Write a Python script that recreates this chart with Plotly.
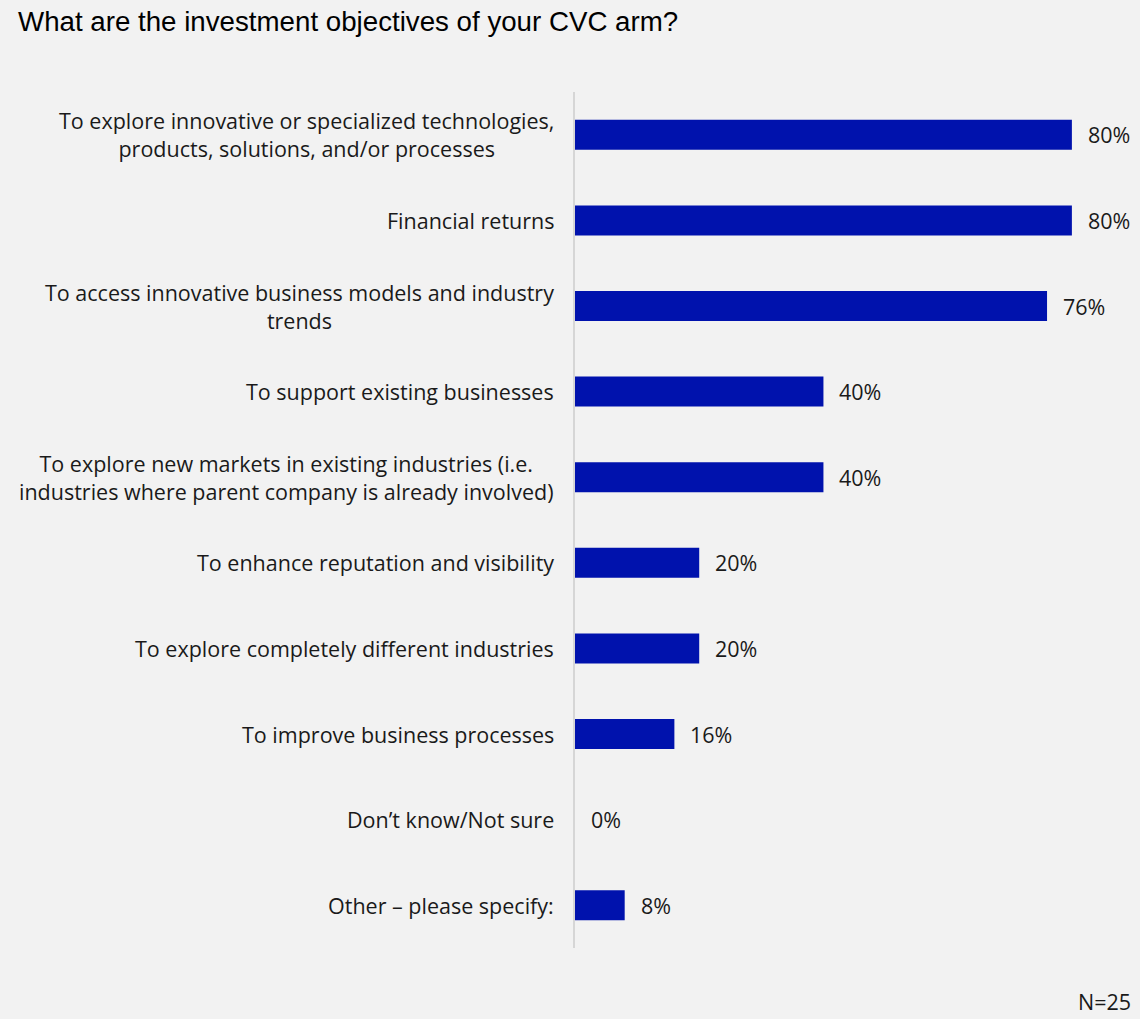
import plotly.graph_objects as go

categories = [
    "To explore innovative or specialized technologies,<br>products, solutions, and/or processes",
    "Financial returns",
    "To access innovative business models and industry<br>trends",
    "To support existing businesses",
    "To explore new markets in existing industries (i.e.<br>industries where parent company is already involved)",
    "To enhance reputation and visibility",
    "To explore completely different industries",
    "To improve business processes",
    "Don\u2019t know/Not sure",
    "Other \u2013 please specify:",
]
values = [80, 80, 76, 40, 40, 20, 20, 16, 0, 8]
value_labels = [f"{v}%" for v in values]

title_text = "What are the investment objectives of your CVC arm?"
footnote = "N=25"

BAR_COLOR = "#0012AD"
TEXT_COLOR = "#1a1a1a"
BG = "#f2f2f2"
FONT = "Open Sans, Liberation Sans, Arial, sans-serif"
FONT_SIZE = 21.5

fig = go.Figure(
    go.Bar(
        x=values,
        y=categories,
        orientation="h",
        marker=dict(color=BAR_COLOR, line=dict(width=0)),
        hoverinfo="skip",
    )
)

annotations = []
# category labels, right-aligned block with centered lines
for cat in categories:
    annotations.append(dict(
        x=0, y=cat, xref="paper", yref="y",
        text=cat, showarrow=False,
        xanchor="right", yanchor="middle", align="center",
        xshift=-19,
        font=dict(family=FONT, size=FONT_SIZE, color=TEXT_COLOR),
    ))
# value labels beside each bar
for cat, v, lab in zip(categories, values, value_labels):
    annotations.append(dict(
        x=v, y=cat, xref="x", yref="y",
        text=lab, showarrow=False,
        xanchor="left", yanchor="middle",
        xshift=14,
        font=dict(family=FONT, size=FONT_SIZE, color=TEXT_COLOR),
    ))
annotations.append(dict(
    x=1, y=0, xref="paper", yref="paper",
    text=footnote, showarrow=False,
    xanchor="right", yanchor="middle",
    xshift=-1, yshift=-53,
    font=dict(family=FONT, size=FONT_SIZE, color=TEXT_COLOR),
))

fig.update_layout(
    width=1140, height=1019,
    margin=dict(l=575, r=6, t=92, b=71),
    paper_bgcolor=BG, plot_bgcolor=BG,
    showlegend=False,
    bargap=0.65,
    title=dict(
        text=title_text,
        x=18 / 1140, xanchor="left", xref="container",
        y=1 - 21 / 1019, yanchor="middle", yref="container",
        font=dict(family="Liberation Sans, Arial, sans-serif", size=27.7, color="#000000"),
    ),
    xaxis=dict(
        range=[0, 90], visible=False, showgrid=False, zeroline=False,
        fixedrange=True,
    ),
    yaxis=dict(
        autorange="reversed", showticklabels=False, ticks="",
        showgrid=False, zeroline=False,
        showline=True, linecolor="#d6d6d6", linewidth=2,
    ),
    annotations=annotations,
)

fig.write_html("out.html")
